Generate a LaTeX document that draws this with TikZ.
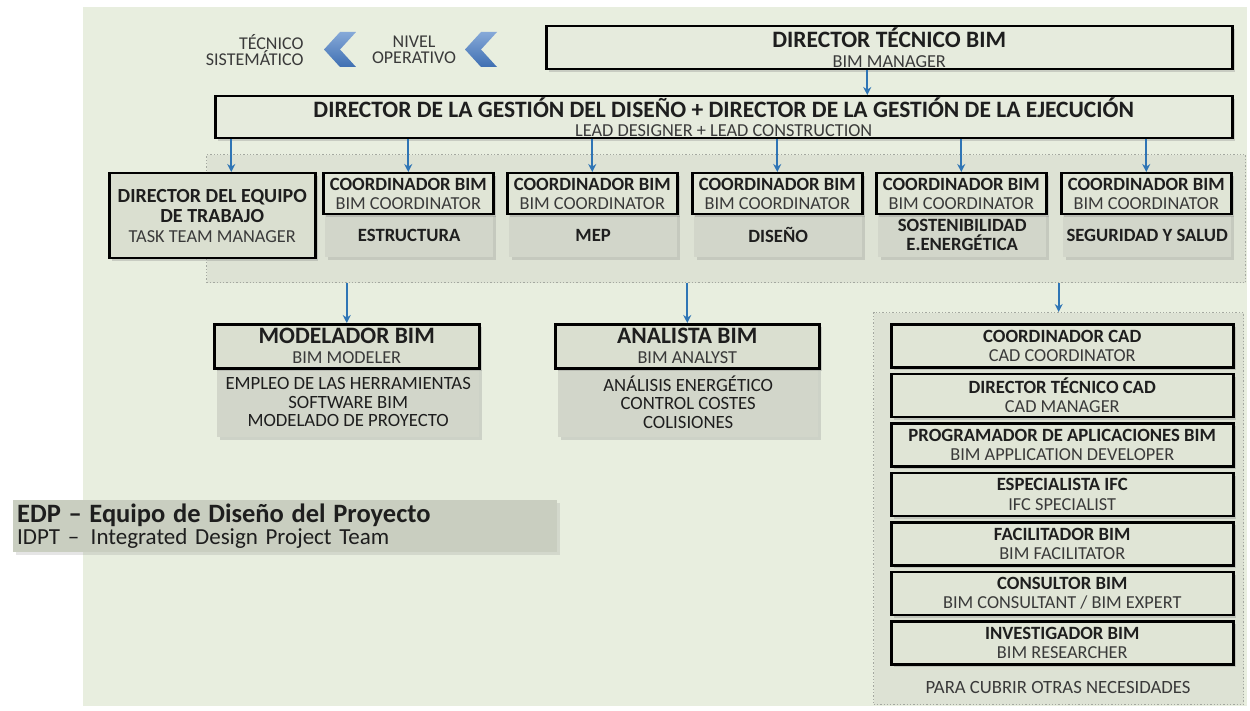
\documentclass[tikz,border=0pt]{standalone}
\usepackage{fontspec}
\setmainfont{Carlito}
\usetikzlibrary{arrows.meta,shadows}

\newcommand{\ttlbf}{\fontsize{23.5}{24}\selectfont\bfseries}
\newcommand{\rolebf}{\fontsize{18.7}{19}\selectfont\bfseries}
\newcommand{\rolerm}{\fontsize{18.3}{19}\selectfont\color{subink}}

\begin{document}
\begin{tikzpicture}[x=1pt,y=-1pt,
  hdr/.style={draw=black,line width=2.5pt,fill=hdrfill,anchor=north west,align=center,inner sep=0pt,
    text=ink,font=\fontsize{18.7}{19.5}\selectfont,
    drop shadow={shadow xshift=3pt,shadow yshift=-3pt,opacity=0.3}},
  panel/.style={fill=panelfill,anchor=north west,align=center,inner sep=0pt,text=ink,
    font=\fontsize{18.7}{18.5}\selectfont,
    drop shadow={shadow xshift=3pt,shadow yshift=-3pt,opacity=0.25}},
  grp/.style={draw=grpline,dotted,line width=1.3pt,fill=grpfill,anchor=north west,inner sep=0pt},
  arr/.style={-{Stealth[length=8pt,width=8pt]},line width=1.8pt,draw=arrowblue},
  lvl/.style={text=subink,font=\fontsize{18}{16}\selectfont}]
\definecolor{sage}{HTML}{E8EEDF}
\definecolor{topfill}{HTML}{E6EBDD}
\definecolor{hdrfill}{HTML}{E0E5D6}
\definecolor{dirfill}{HTML}{DADFD0}
\definecolor{panelfill}{HTML}{D2D6CA}
\definecolor{grpfill}{HTML}{DDE2D4}
\definecolor{grpline}{HTML}{A4A8A0}
\definecolor{legfill}{HTML}{C9CEC0}
\definecolor{arrowblue}{HTML}{2F75B5}
\definecolor{chevtop}{HTML}{86A9D8}
\definecolor{chevbot}{HTML}{3F6FB2}
\definecolor{ink}{HTML}{1E1E1E}
\definecolor{subink}{HTML}{3A3A3A}
\useasboundingbox (0,0) rectangle (1250,711);
\fill[white] (0,0) rectangle (1250,711);
\fill[sage] (83,7) rectangle (1247,706);

% levels
\node[lvl,anchor=east,align=right] (tecnico) at (307,50) {TÉCNICO\\SISTEMÁTICO};
\node[lvl,align=center] (nivel) at (414,50) {NIVEL\\OPERATIVO};
\foreach \cx in {324,465}
  \shade[top color=chevtop,bottom color=chevbot] (\cx+16,32) -- (\cx+32,32) -- (\cx+16,49.5)
    -- (\cx+32,67) -- (\cx+16,67) -- (\cx,49.5) -- cycle;

% management
\node[hdr,fill=topfill,minimum width=686pt,minimum height=43pt] (bimmgr) at (545,25)
  {{\ttlbf DIRECTOR TÉCNICO BIM}\\{\rolerm BIM MANAGER}};
\node[hdr,fill=topfill,minimum width=1017pt,minimum height=42pt] (lead) at (214,95)
  {{\ttlbf DIRECTOR DE LA GESTIÓN DEL DISEÑO + DIRECTOR DE LA GESTIÓN DE LA EJECUCIÓN}\\{\rolerm LEAD DESIGNER + LEAD CONSTRUCTION}};
\coordinate (mgrfoot) at ([xshift=-22pt]bimmgr.south);
\draw[arr] (mgrfoot) -- (mgrfoot |- lead.north);

% task team
\node[grp,minimum width=1039pt,minimum height=128pt] (team) at (206,154) {};
\node[hdr,fill=dirfill,minimum width=206pt,minimum height=85pt,font=\fontsize{20}{20}\selectfont] (ttm) at (108,172)
  {{\bfseries DIRECTOR DEL EQUIPO}\\{\bfseries DE TRABAJO}\\{\rolerm TASK TEAM MANAGER}};
\coordinate (ttmin) at ([xshift=19pt]ttm.north);
\draw[arr] (lead.south -| ttmin) -- (ttmin);
\foreach \n/\lx/\area in {1/322/ESTRUCTURA,2/506/MEP,3/691/DISEÑO,4/875/{SOSTENIBILIDAD\\E.ENERGÉTICA},5/1060/SEGURIDAD Y SALUD}
{ \node[panel,minimum width=168pt,minimum height=44pt,font=\rolebf] (area\n) at (\lx+3,213) {\area};
  \node[hdr,minimum width=170pt,minimum height=41pt] (coord\n) at (\lx,172)
    {{\rolebf COORDINADOR BIM}\\{\rolerm BIM COORDINATOR}};
  \draw[arr] (lead.south -| coord\n.north) -- (coord\n.north);}

% modeler and analyst
\node[panel,minimum width=262pt,minimum height=70pt] (modtasks) at (217,367)
  {EMPLEO DE LAS HERRAMIENTAS\\SOFTWARE BIM\\MODELADO DE PROYECTO};
\node[hdr,fill=dirfill,minimum width=265pt,minimum height=44pt,font=\fontsize{18.7}{20}\selectfont] (modeler) at (213,323)
  {{\ttlbf MODELADOR BIM}\\{\rolerm BIM MODELER}};
\node[panel,minimum width=260pt,minimum height=70pt] (anatasks) at (558,367)
  {ANÁLISIS ENERGÉTICO\\CONTROL COSTES\\COLISIONES};
\node[hdr,fill=dirfill,minimum width=264pt,minimum height=44pt,font=\fontsize{18.7}{20}\selectfont] (analyst) at (554,323)
  {{\ttlbf ANALISTA BIM}\\{\rolerm BIM ANALYST}};
\draw[arr] (team.south -| modeler.north) -- (modeler.north);
\draw[arr] (team.south -| analyst.north) -- (analyst.north);

% other roles
\node[grp,minimum width=370pt,minimum height=392pt] (others) at (873,312) {};
\draw[arr] (team.south -| others.north) -- (others.north);
\foreach \i/\es/\en in {0/COORDINADOR CAD/CAD COORDINATOR,1/DIRECTOR TÉCNICO CAD/CAD MANAGER,
  2/PROGRAMADOR DE APLICACIONES BIM/BIM APPLICATION DEVELOPER,3/ESPECIALISTA IFC/IFC SPECIALIST,
  4/FACILITADOR BIM/BIM FACILITATOR,5/CONSULTOR BIM/{BIM CONSULTANT / BIM EXPERT},6/INVESTIGADOR BIM/BIM RESEARCHER}
{ \node[hdr,minimum width=342pt,minimum height=43pt] (role\i) at (890,{323+49.5*\i})
    {{\rolebf \es}\\{\rolerm \en}};}
\node[text=subink,font=\fontsize{18.7}{19}\selectfont] (extra) at (1058,687) {PARA CUBRIR OTRAS NECESIDADES};

% legend
\node[anchor=north west,fill=legfill,minimum width=544pt,minimum height=52pt,text width=536pt,align=left,inner sep=4pt,
  text=ink,font=\fontsize{23}{21.5}\selectfont,drop shadow={shadow xshift=3pt,shadow yshift=-3pt,opacity=0.2}] (edp) at (13,500)
  {{\fontsize{26.5}{21.5}\selectfont\bfseries EDP – Equipo de Diseño del Proyecto}\\IDPT –\enspace Integrated Design Project Team};
\end{tikzpicture}
\end{document}
